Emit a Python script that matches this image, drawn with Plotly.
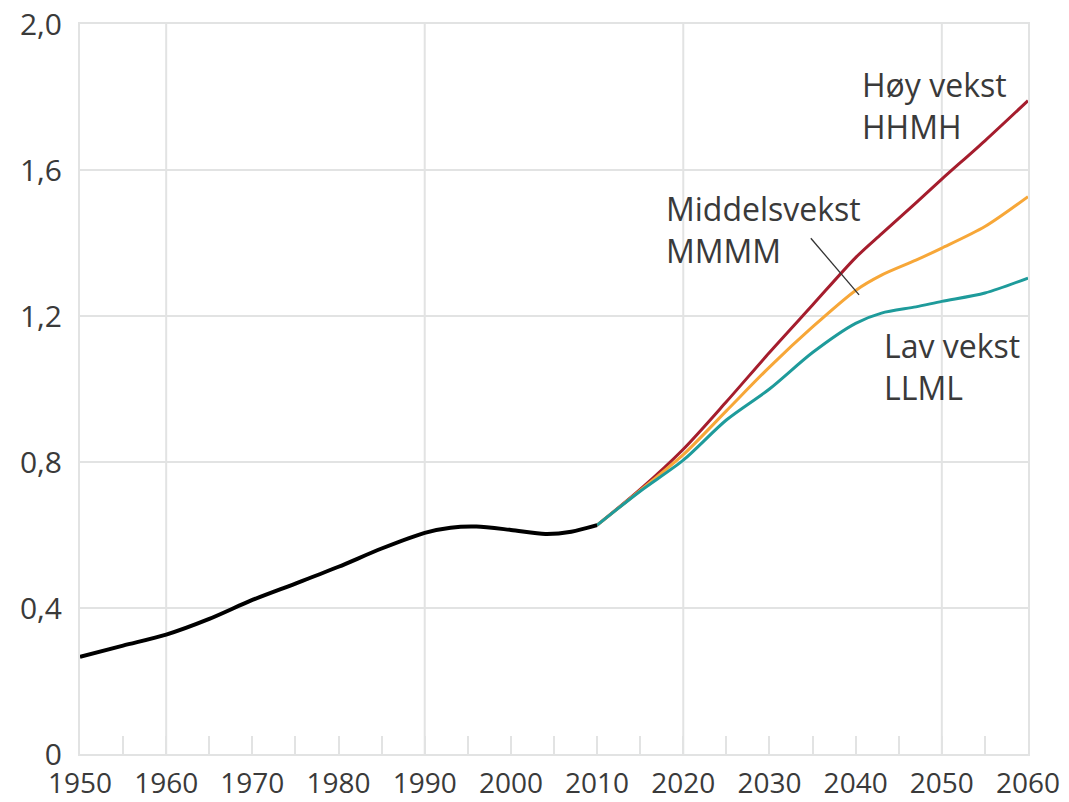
import plotly.graph_objects as go

# Historical (black)
hist_years = [1950, 1955, 1960, 1965, 1970, 1975, 1980, 1985, 1990, 1993, 1996, 2000, 2004, 2007, 2010]
hist_vals = [0.266, 0.297, 0.327, 0.370, 0.422, 0.467, 0.513, 0.563, 0.606, 0.620, 0.623, 0.614, 0.603, 0.609, 0.627]

# Projections
proj_years = [2010, 2015, 2020, 2025, 2030, 2035, 2040, 2043, 2047, 2050, 2055, 2060]
high_vals = [0.627, 0.725, 0.835, 0.965, 1.100, 1.230, 1.360, 1.425, 1.510, 1.575, 1.680, 1.790]
mid_vals = [0.627, 0.722, 0.820, 0.940, 1.060, 1.170, 1.270, 1.312, 1.353, 1.386, 1.445, 1.527]
low_vals = [0.627, 0.720, 0.805, 0.915, 1.000, 1.100, 1.180, 1.208, 1.225, 1.240, 1.263, 1.304]

x_tick_vals = [1950, 1960, 1970, 1980, 1990, 2000, 2010, 2020, 2030, 2040, 2050, 2060]
x_tick_text = [str(v) for v in x_tick_vals]
y_tick_vals = [0, 0.4, 0.8, 1.2, 1.6, 2.0]
y_tick_text = ["0", "0,4", "0,8", "1,2", "1,6", "2,0"]
grid_years = [1960, 1990, 2020, 2050]

RED = "#a51d2d"
ORANGE = "#f7a738"
TEAL = "#1e9b9b"
GRID = "#e2e3e3"
TEXT = "#3a3a3a"
FONT = "Open Sans"

fig = go.Figure()
fig.add_trace(go.Scatter(x=proj_years, y=high_vals, mode="lines",
                         line=dict(color=RED, width=3, shape="spline", smoothing=0.8),
                         showlegend=False, hoverinfo="skip"))
fig.add_trace(go.Scatter(x=proj_years, y=mid_vals, mode="lines",
                         line=dict(color=ORANGE, width=3, shape="spline", smoothing=0.8),
                         showlegend=False, hoverinfo="skip"))
fig.add_trace(go.Scatter(x=proj_years, y=low_vals, mode="lines",
                         line=dict(color=TEAL, width=3, shape="spline", smoothing=0.8),
                         showlegend=False, hoverinfo="skip"))
fig.add_trace(go.Scatter(x=hist_years, y=hist_vals, mode="lines",
                         line=dict(color="#000000", width=4, shape="spline", smoothing=0.8),
                         showlegend=False, hoverinfo="skip"))

shapes = []
for yr in grid_years:
    shapes.append(dict(type="line", xref="x", yref="y", x0=yr, x1=yr, y0=0, y1=2.0,
                       line=dict(color=GRID, width=2), layer="below"))
# leader line for Middelsvekst label
shapes.append(dict(type="line", xref="x", yref="y", x0=2034.8, y0=1.413, x1=2040.4, y1=1.258,
                   line=dict(color="#333333", width=1.3)))

label_font = dict(family=FONT, size=32, color=TEXT)
annotations = []
labels = [
    ("Høy vekst<br>HHMH", 2040.5, 1.778),
    ("Middelsvekst<br>MMMM", 2017.8, 1.438),
    ("Lav vekst<br>LLML", 2043.1, 1.063),
]
for txt, xx, yy in labels:
    annotations.append(dict(text=txt, x=xx, y=yy, xref="x", yref="y", showarrow=False,
                            xanchor="left", yanchor="middle", align="left", font=label_font))

# The page body adds an 8px offset, so the figure is sized to fit the 1069x802 window.
fig.update_layout(
    width=1061, height=794,
    margin=dict(l=71.5, r=41, t=16, b=48),
    paper_bgcolor="white", plot_bgcolor="white",
    font=dict(family=FONT, size=32, color=TEXT),
    shapes=shapes, annotations=annotations,
    xaxis=dict(range=[1950, 2060], tickvals=x_tick_vals, ticktext=x_tick_text,
               showgrid=False, zeroline=False, automargin=False, ticklabeloverflow="allow",
               ticks="inside", ticklen=18, tickwidth=2, tickcolor=GRID,
               minor=dict(ticks="inside", dtick=5, ticklen=18, tickwidth=2, tickcolor=GRID, showgrid=False),
               showline=True, linecolor=GRID, linewidth=2, mirror=True,
               tickfont=dict(family=FONT, size=28, color=TEXT), ticklabelstandoff=3),
    yaxis=dict(range=[0, 2.0], tickvals=y_tick_vals, ticktext=y_tick_text,
               showgrid=True, gridcolor=GRID, gridwidth=2, zeroline=False, automargin=False,
               ticklabeloverflow="allow",
               ticks="", showline=True, linecolor=GRID, linewidth=2, mirror=True,
               tickfont=dict(family=FONT, size=30, color=TEXT), ticklabelstandoff=10),
)

fig.write_html("out.html")
